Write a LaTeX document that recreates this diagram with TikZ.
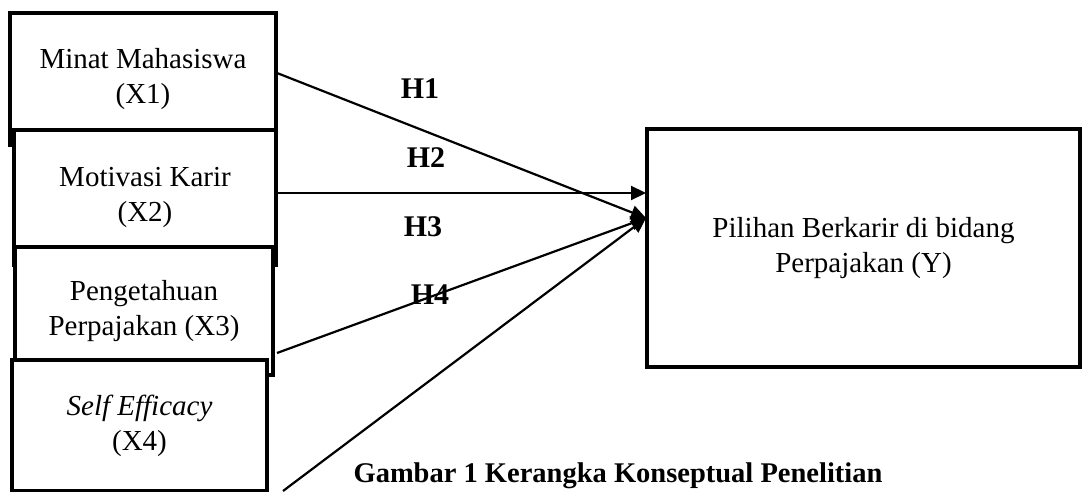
\documentclass[tikz,border=0pt]{standalone}
\usepackage{fontspec}
\setmainfont{Liberation Serif}
\usetikzlibrary{arrows.meta}
\begin{document}
\begin{tikzpicture}[x=1pt,y=-1pt,
  box/.style={draw=black, line width=4.5pt, fill=white, inner sep=0pt, align=center,
    font=\fontsize{29}{35}\selectfont},
  arr/.style={line width=2.2pt, -{Triangle[length=15pt,width=14pt]}},
  hlab/.style={font=\fontsize{30}{32}\selectfont\bfseries, inner sep=0pt},
  caption/.style={font=\fontsize{28.5}{32}\selectfont\bfseries, inner sep=0pt}]
\useasboundingbox (0,0) rectangle (1086,492);
% left boxes (drawn in order, later ones cover the earlier)
\node[box, minimum width=266pt, minimum height=132pt] (x1) at (143,79) {Minat Mahasiswa\\(X1)};
\node[box, minimum width=262pt, minimum height=135pt] (x2) at (145,197.5) {Motivasi Karir\\(X2)};
\node[box, minimum width=258pt, minimum height=128pt] (x3) at (144,311) {Pengetahuan\\Perpajakan (X3)};
\node[box, minimum width=255pt, minimum height=131pt] (x4) at (139.5,425.5) {\textit{Self Efficacy}\\(X4)};
% right box
\node[box, minimum width=433pt, minimum height=238pt] (y) at (863.5,248) {Pilihan Berkarir di bidang\\Perpajakan (Y)};
% connector points
\coordinate (s1) at (277,73);
\coordinate (s2) at (277,193);
\coordinate (s3) at (277,353);
\coordinate (s4) at (283,491);
\coordinate (e2) at (646,193);
\coordinate (e1) at (646,218);
% arrows
\draw[arr] (s1) -- (e1);
\draw[arr] (s2) -- (e2);
\draw[arr] (s3) -- (e1);
\draw[arr] (s4) -- (e1);
% hypothesis labels
\node[hlab] (h1) at (420,89) {H1};
\node[hlab] (h2) at (426,158) {H2};
\node[hlab] (h3) at (423,227) {H3};
\node[hlab] (h4) at (430,295) {H4};
% caption
\node[caption] (cap) at (618,476) {Gambar 1 Kerangka Konseptual Penelitian};
\end{tikzpicture}
\end{document}
